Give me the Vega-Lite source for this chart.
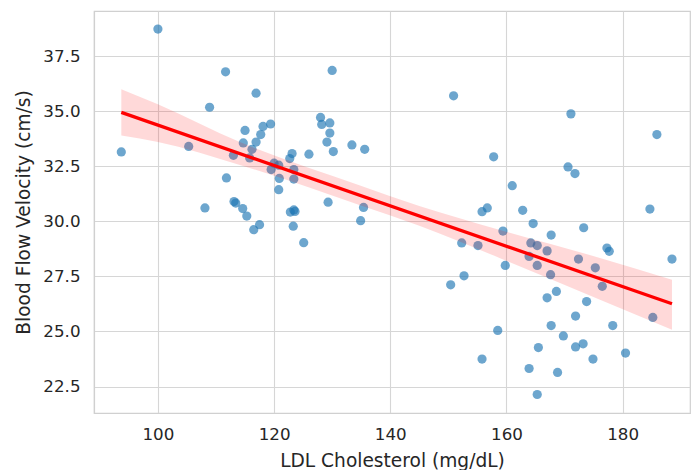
{
  "$schema": "https://vega.github.io/schema/vega-lite/v6.json",
  "width": 596,
  "height": 402,
  "autosize": {"type": "none"},
  "padding": {"left": 94, "top": 11, "right": 3, "bottom": 57},
  "background": "white",
  "config": {
    "font": "DejaVu Sans",
    "view": {"stroke": "#d0d0d0", "strokeWidth": 1.2},
    "axis": {
      "labelFont": "DejaVu Sans",
      "titleFont": "DejaVu Sans",
      "labelFontSize": 16.7,
      "titleFontSize": 18.6,
      "titleFontWeight": "normal",
      "labelColor": "#262626",
      "titleColor": "#262626",
      "gridColor": "#d6d6d6",
      "gridWidth": 1.1,
      "domainColor": "#d0d0d0",
      "domainWidth": 1.2,
      "ticks": false
    }
  },
  "datasets": {
    "pts": [
      {"ldl": 93.7, "vel": 33.15}, {"ldl": 100.0, "vel": 38.73}, {"ldl": 105.3, "vel": 33.40}, {"ldl": 108.9, "vel": 35.18},
      {"ldl": 111.65, "vel": 36.79}, {"ldl": 108.1, "vel": 30.61}, {"ldl": 111.8, "vel": 31.97}, {"ldl": 113.0, "vel": 33.00},
      {"ldl": 113.1, "vel": 30.90}, {"ldl": 113.4, "vel": 30.83}, {"ldl": 114.6, "vel": 30.58}, {"ldl": 115.3, "vel": 30.24},
      {"ldl": 116.5, "vel": 29.62}, {"ldl": 117.5, "vel": 29.85}, {"ldl": 115.0, "vel": 34.13}, {"ldl": 114.7, "vel": 33.56},
      {"ldl": 116.2, "vel": 33.27}, {"ldl": 115.8, "vel": 32.88}, {"ldl": 116.9, "vel": 33.60}, {"ldl": 116.9, "vel": 35.82},
      {"ldl": 117.7, "vel": 33.94}, {"ldl": 118.1, "vel": 34.31}, {"ldl": 119.4, "vel": 34.42}, {"ldl": 119.5, "vel": 32.35},
      {"ldl": 120.0, "vel": 32.64}, {"ldl": 120.8, "vel": 32.55}, {"ldl": 120.9, "vel": 31.95}, {"ldl": 120.8, "vel": 31.44},
      {"ldl": 122.7, "vel": 32.85}, {"ldl": 123.1, "vel": 33.08}, {"ldl": 123.4, "vel": 32.35}, {"ldl": 123.4, "vel": 31.92},
      {"ldl": 122.8, "vel": 30.42}, {"ldl": 123.4, "vel": 30.52}, {"ldl": 123.6, "vel": 30.45}, {"ldl": 123.3, "vel": 29.78},
      {"ldl": 125.1, "vel": 29.03}, {"ldl": 126.0, "vel": 33.05}, {"ldl": 129.3, "vel": 30.87}, {"ldl": 128.0, "vel": 34.72},
      {"ldl": 128.2, "vel": 34.40}, {"ldl": 129.6, "vel": 34.47}, {"ldl": 129.6, "vel": 34.01}, {"ldl": 129.1, "vel": 33.60},
      {"ldl": 130.2, "vel": 33.17}, {"ldl": 130.0, "vel": 36.85}, {"ldl": 133.4, "vel": 33.47}, {"ldl": 135.6, "vel": 33.27},
      {"ldl": 135.4, "vel": 30.63}, {"ldl": 134.9, "vel": 30.03},
      {"ldl": 150.9, "vel": 35.70}, {"ldl": 171.1, "vel": 34.88}, {"ldl": 185.9, "vel": 33.94}, {"ldl": 157.8, "vel": 32.93},
      {"ldl": 170.6, "vel": 32.47}, {"ldl": 171.8, "vel": 32.17}, {"ldl": 161.0, "vel": 31.62}, {"ldl": 156.7, "vel": 30.61},
      {"ldl": 155.8, "vel": 30.44}, {"ldl": 162.8, "vel": 30.50}, {"ldl": 164.6, "vel": 29.90}, {"ldl": 173.3, "vel": 29.71},
      {"ldl": 184.7, "vel": 30.56}, {"ldl": 167.7, "vel": 29.38}, {"ldl": 159.4, "vel": 29.56}, {"ldl": 152.3, "vel": 29.02},
      {"ldl": 155.1, "vel": 28.90}, {"ldl": 164.2, "vel": 29.02}, {"ldl": 165.3, "vel": 28.90}, {"ldl": 163.9, "vel": 28.41},
      {"ldl": 167.0, "vel": 28.66}, {"ldl": 165.3, "vel": 28.00}, {"ldl": 159.8, "vel": 28.00}, {"ldl": 177.3, "vel": 28.79},
      {"ldl": 177.7, "vel": 28.64}, {"ldl": 172.4, "vel": 28.29}, {"ldl": 175.3, "vel": 27.89}, {"ldl": 188.5, "vel": 28.29},
      {"ldl": 167.6, "vel": 27.58}, {"ldl": 152.7, "vel": 27.53}, {"ldl": 150.4, "vel": 27.12}, {"ldl": 176.5, "vel": 27.05},
      {"ldl": 168.6, "vel": 26.82}, {"ldl": 167.0, "vel": 26.53}, {"ldl": 173.8, "vel": 26.36}, {"ldl": 171.9, "vel": 25.70},
      {"ldl": 185.2, "vel": 25.64}, {"ldl": 167.7, "vel": 25.27}, {"ldl": 178.3, "vel": 25.27}, {"ldl": 158.5, "vel": 25.05},
      {"ldl": 169.8, "vel": 24.80}, {"ldl": 171.9, "vel": 24.30}, {"ldl": 173.2, "vel": 24.44}, {"ldl": 165.5, "vel": 24.27},
      {"ldl": 180.5, "vel": 24.02}, {"ldl": 174.9, "vel": 23.75}, {"ldl": 155.8, "vel": 23.75}, {"ldl": 163.9, "vel": 23.32},
      {"ldl": 168.8, "vel": 23.14}, {"ldl": 165.3, "vel": 22.14}
    ],
    "band": [
      {"ldl": 93.7, "lo": 33.90, "hi": 36.00},
      {"ldl": 100.0, "lo": 33.60, "hi": 35.32},
      {"ldl": 114.1, "lo": 32.56, "hi": 33.60},
      {"ldl": 134.8, "lo": 30.73, "hi": 31.63},
      {"ldl": 145.0, "lo": 29.80, "hi": 30.70},
      {"ldl": 158.9, "lo": 28.33, "hi": 29.61},
      {"ldl": 176.1, "lo": 26.44, "hi": 28.34},
      {"ldl": 188.5, "lo": 25.08, "hi": 27.35}
    ],
    "fit": [
      {"ldl": 93.7, "vel": 34.95},
      {"ldl": 188.5, "vel": 26.26}
    ]
  },
  "layer": [
    {
      "data": {"name": "pts"},
      "mark": {"type": "circle", "color": "#1f77b4", "opacity": 0.65, "size": 85},
      "encoding": {
        "x": {
          "field": "ldl", "type": "quantitative",
          "title": "LDL Cholesterol (mg/dL)",
          "scale": {"domain": [89, 191.6], "nice": false, "zero": false},
          "axis": {"values": [100, 120, 140, 160, 180], "format": "d", "labelPadding": 13, "titlePadding": 9}
        },
        "y": {
          "field": "vel", "type": "quantitative",
          "title": "Blood Flow Velocity (cm/s)",
          "scale": {"domain": [21.3, 39.55], "nice": false, "zero": false},
          "axis": {"values": [22.5, 25, 27.5, 30, 32.5, 35, 37.5], "format": ".1f", "labelPadding": 14, "titlePadding": 9}
        }
      }
    },
    {
      "data": {"name": "band"},
      "mark": {"type": "area", "color": "#ff0000", "opacity": 0.15, "interpolate": "monotone"},
      "encoding": {
        "x": {"field": "ldl", "type": "quantitative"},
        "y": {"field": "lo", "type": "quantitative"},
        "y2": {"field": "hi"}
      }
    },
    {
      "data": {"name": "fit"},
      "mark": {"type": "line", "color": "#ff0000", "strokeWidth": 3.3},
      "encoding": {
        "x": {"field": "ldl", "type": "quantitative"},
        "y": {"field": "vel", "type": "quantitative"}
      }
    }
  ]
}
